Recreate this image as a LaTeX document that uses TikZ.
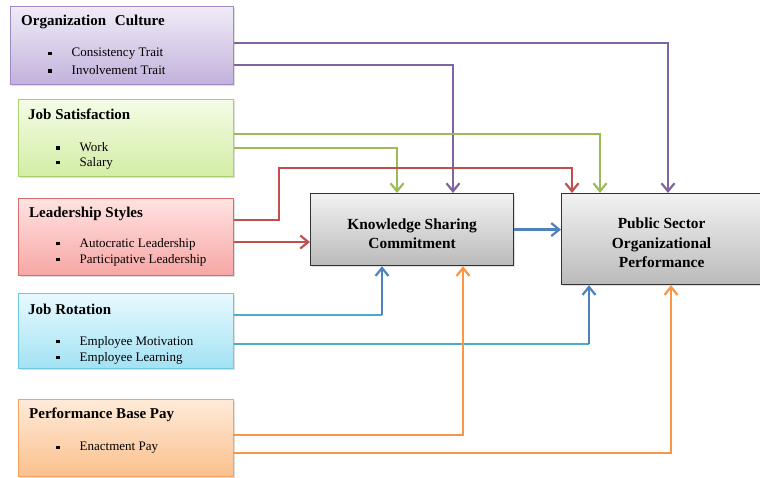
\documentclass[tikz,border=0pt]{standalone}
\usepackage{fontspec}
\setmainfont{Liberation Serif}
\usepackage{xcolor}
\usetikzlibrary{arrows.meta,shadows}
\definecolor{purpln}{HTML}{8064A2}
\definecolor{greenln}{HTML}{9BBB59}
\definecolor{redln}{HTML}{C0504D}
\definecolor{blueln}{HTML}{4F81BD}
\definecolor{aqualn}{HTML}{4BACC6}
\definecolor{orangeln}{HTML}{F79646}
% box edges and shading
\definecolor{purpE}{HTML}{9F8AC4}\definecolor{purpT}{HTML}{F0EBF7}\definecolor{purpB}{HTML}{C2B2DC}
\definecolor{greenE}{HTML}{A8D06E}\definecolor{greenT}{HTML}{F4FCE6}\definecolor{greenB}{HTML}{D3EDA5}
\definecolor{redE}{HTML}{DA6C6A}\definecolor{redT}{HTML}{FFE3E3}\definecolor{redB}{HTML}{F7A6A4}
\definecolor{aquaE}{HTML}{6FC8E2}\definecolor{aquaT}{HTML}{E8F9FF}\definecolor{aquaB}{HTML}{A2E2F4}
\definecolor{orangeE}{HTML}{F5A25E}\definecolor{orangeT}{HTML}{FFEBDA}\definecolor{orangeB}{HTML}{FBC08C}
\newcommand{\itm}{\rule[0.3ex]{3.5pt}{3.5pt}\hspace{20pt}}

\begin{document}
\begin{tikzpicture}[x=1pt, y=1pt,
  card/.style={draw=#1E, top color=#1T, bottom color=#1B, line width=1pt,
    anchor=north west, inner sep=0pt,
    drop shadow={opacity=0.25, shadow xshift=1.5pt, shadow yshift=-1.5pt}},
  core/.style={draw=black!80, line width=1.2pt, anchor=north west,
    top color=black!5, bottom color=black!27,
    drop shadow={opacity=0.25, shadow xshift=1.5pt, shadow yshift=-1.5pt}},
  coretxt/.style={align=center, inner sep=0pt, font=\fontsize{15.4}{19.5}\selectfont\bfseries},
  ttl/.style={anchor=west, inner sep=0pt, font=\fontsize{15}{17}\selectfont\bfseries},
  itm/.style={anchor=west, inner sep=0pt, font=\fontsize{13}{15}\selectfont},
  ln/.style={line width=2.2pt},
  arr/.style={ln, -{Straight Barb[length=8pt, width=13pt, line width=2.2pt]}}
]
\useasboundingbox (0,0) rectangle (760,-478);

% left side factors
\node[card=purp, minimum width=223pt, minimum height=78pt] (cult) at (10,-6) {};
\node[card=green, minimum width=215pt, minimum height=77pt] (jsat) at (18,-99) {};
\node[card=red, minimum width=215pt, minimum height=77pt] (lead) at (18,-198) {};
\node[card=aqua, minimum width=215pt, minimum height=75pt] (jrot) at (18,-293) {};
\node[card=orange, minimum width=215pt, minimum height=77pt] (pbp) at (18,-399) {};

\node[ttl] (cultT) at (21,-21.5) {Organization\,\, Culture};
\node[itm] (cult1) at (48,-54) {\itm Consistency Trait};
\node[itm] (cult2) at (48,-70) {\itm Involvement Trait};

\node[ttl] (jsatT) at (28,-114.5) {Job Satisfaction};
\node[itm] (jsat1) at (56,-147) {\itm Work};
\node[itm] (jsat2) at (56,-163) {\itm Salary};

\node[ttl] (leadT) at (29,-213.5) {Leadership Styles};
\node[itm] (lead1) at (56,-244) {\itm Autocratic Leadership};
\node[itm] (lead2) at (56,-260) {\itm Participative Leadership};

\node[ttl] (jrotT) at (28,-309.5) {Job Rotation};
\node[itm] (jrot1) at (56,-342) {\itm Employee Motivation};
\node[itm] (jrot2) at (56,-358) {\itm Employee Learning};

\node[ttl] (pbpT) at (29,-414.5) {Performance Base Pay};
\node[itm] (pbp1) at (56,-448) {\itm Enactment Pay};

% mediator and outcome
\node[core, minimum width=203pt, minimum height=72pt] (ksc) at (310,-193) {};
\node[core, minimum width=200pt, minimum height=91pt] (psp) at (561,-193) {};
\node[coretxt] (kscT) at ([yshift=-4pt]ksc.center) {Knowledge Sharing\\Commitment};
\node[coretxt] (pspT) at ([yshift=-4pt]psp.center) {Public Sector\\Organizational\\Performance};

% bends
\coordinate (p1) at (668,-43);
\coordinate (p2) at (453,-65);
\coordinate (g1) at (600,-134);
\coordinate (g2) at (397,-148);
\coordinate (r1a) at (279,-220);
\coordinate (r1b) at (572,-168);
\coordinate (r2) at (279,-242);
\coordinate (j1) at (382,-315);
\coordinate (j2) at (589,-344);
\coordinate (o1) at (463,-435);
\coordinate (o2) at (671,-453);

\draw[arr, purpln] (cult.east |- p1) -- (p1) -- (p1 |- psp.north);
\draw[arr, purpln] (cult.east |- p2) -- (p2) -- (p2 |- ksc.north);
\draw[arr, greenln] (jsat.east |- g1) -- (g1) -- (g1 |- psp.north);
\draw[arr, greenln] (jsat.east |- g2) -- (g2) -- (g2 |- ksc.north);
\draw[arr, redln] (lead.east |- r1a) -- (r1a) |- (r1b) -- (r1b |- psp.north);
\draw[arr, redln] (lead.east |- r2) -- (ksc.west |- r2);
\draw[arr, blueln] (ksc.east) -- (psp.west |- ksc.east);
\draw[ln, aqualn] (jrot.east |- j1) -- (j1);
\draw[arr, blueln] (j1) -- (j1 |- ksc.south);
\draw[ln, aqualn] (jrot.east |- j2) -- (j2);
\draw[arr, blueln] (j2) -- (j2 |- psp.south);
\draw[arr, orangeln] (pbp.east |- o1) -- (o1) -- (o1 |- ksc.south);
\draw[arr, orangeln] (pbp.east |- o2) -- (o2) -- (o2 |- psp.south);
\end{tikzpicture}
\end{document}
